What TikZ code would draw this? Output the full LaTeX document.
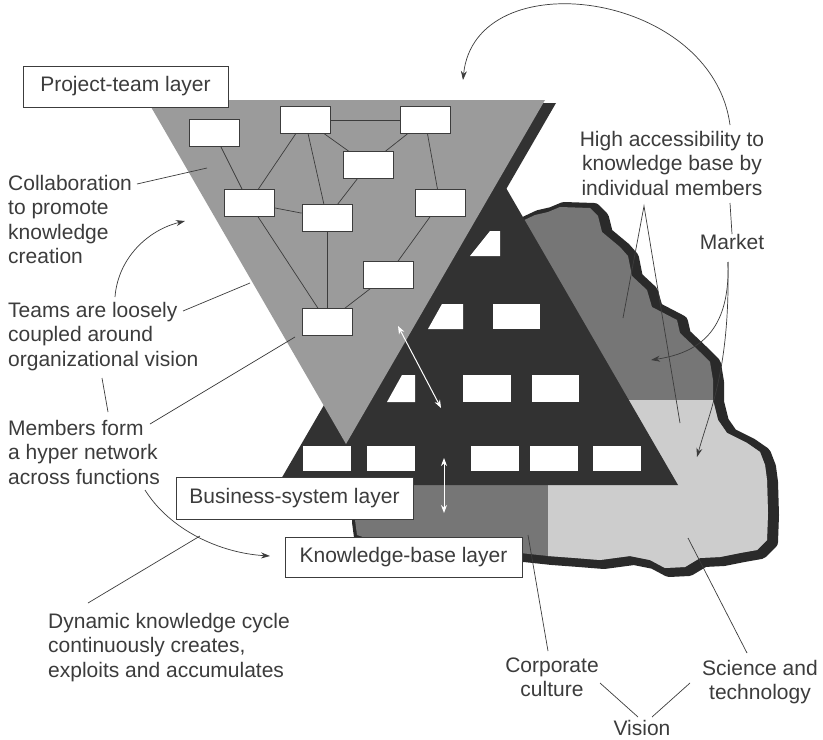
\documentclass[tikz,border=0pt]{standalone}
\usepackage{fontspec}
\usepackage{xcolor}
\setmainfont{Liberation Sans}
\usetikzlibrary{arrows.meta}

\definecolor{inkgrey}{HTML}{3C3C3C}
\definecolor{teamgrey}{HTML}{9B9B9B}
\definecolor{pyrdark}{HTML}{323232}
\definecolor{rockmid}{HTML}{767676}
\definecolor{rocklight}{HTML}{CDCDCD}
\definecolor{rockedge}{HTML}{2A2A2A}

\newcommand{\labelfont}{\fontsize{21bp}{24.5bp}\selectfont}
\newcommand{\rockline}{(520,222) -- (535,215) -- (548,212) -- (560,207) -- (590,208) -- (598,216) -- (602,232) -- (620,247) -- (628,256) -- (632,276) -- (647,290) -- (652,307) -- (677,320) -- (680,333) -- (700,352) -- (710,362) -- (713,380) -- (713,400) -- (718,420) -- (727,433) -- (747,443) -- (760,452) -- (765,465) -- (767,480) -- (768,513) -- (767,540) -- (757,550) -- (740,553) -- (720,557) -- (700,558) -- (685,567) -- (665,568) -- (650,560) -- (630,556) -- (600,560) -- (575,558) -- (548,556) -- (520,553) -- (500,555) -- (400,550) -- (357,535) -- (355,520) -- (360,470) -- cycle}

\tikzset{
  member/.style={draw=inkgrey, fill=white, line width=0.6bp, minimum width=50bp, minimum height=27bp, inner sep=0},
  layerbox/.style={draw=inkgrey, fill=white, line width=0.8bp, inner sep=0, font=\labelfont, text=inkgrey},
  note/.style={inner sep=0, font=\labelfont, text=inkgrey},
  lead/.style={draw=inkgrey, line width=0.7bp},
  pointer/.style={lead, -{Stealth[length=9bp,width=6bp]}},
  flow/.style={draw=white, line width=1bp, {Stealth[length=8bp,width=6bp]}-{Stealth[length=8bp,width=6bp]}},
}

\begin{document}
\begin{tikzpicture}[x=1bp,y=-1bp]
  \fill[white] (0,0) rectangle (823,740);
  \useasboundingbox (0,0) rectangle (823,740);

  % Knowledge-base rock
  \filldraw[rockedge, line width=14bp, line join=round, shift={(4,2)}] \rockline;
  \fill[rockmid] \rockline;
  \fill[rocklight] (600,400) -- (713,400) -- (718,420) -- (727,433) -- (747,443) -- (760,452) -- (765,465) -- (767,480) -- (768,513) -- (767,540) -- (757,550) -- (740,553) -- (720,557) -- (700,558) -- (685,567) -- (665,568) -- (650,560) -- (630,556) -- (600,560) -- (575,558) -- (548,556) -- (548,470) -- cycle;

  % Business-system pyramid
  \fill[pyrdark] (277.6,485) -- (478,139.5) -- (678,485) -- cycle;
  \fill[white] (490,231) -- (500,231) -- (500,256) -- (470,256) -- cycle;
  \fill[white] (442,304) -- (463,304) -- (463,329) -- (428,329) -- cycle;
  \fill[white] (493,304) rectangle (540,329);
  \fill[white] (402,375) -- (415,375) -- (415,402) -- (387,402) -- cycle;
  \fill[white] (463,375) rectangle (511,402);
  \fill[white] (532,375) rectangle (579,402);
  \foreach \x in {303,367,471,530,593}
    \fill[white] (\x,446) rectangle ++(48,25);

  % Project-team triangle
  \fill[pyrdark] (158,103) -- (556,103) -- (357,447) -- cycle;
  \fill[teamgrey] (147,100) -- (545,100) -- (346,444) -- cycle;

  % Team members
  \node[member] (t1) at (214,133) {};
  \node[member] (t2) at (305,120) {};
  \node[member] (t3) at (425,120) {};
  \node[member] (t4) at (368,165) {};
  \node[member] (t5) at (249,203) {};
  \node[member] (t6) at (327,218) {};
  \node[member] (t7) at (440,203) {};
  \node[member] (t8) at (388,275) {};
  \node[member] (t9) at (327,322) {};
  \foreach \a/\b in {t2/t3,t2/t4,t3/t4,t1/t5,t2/t5,t2/t6,t4/t6,t5/t6,t3/t7,t7/t8,t5/t9,t6/t9,t8/t9}
    \draw[lead] (\a) -- (\b);

  % Interaction between layers
  \coordinate (upA) at (398,326);
  \coordinate (upB) at (441,408);
  \coordinate (dnA) at (444,458);
  \coordinate (dnB) at (444,513);
  \draw[flow] (upA) -- (upB);
  \draw[flow] (dnA) -- (dnB);

  % Layer labels
  \node[layerbox, minimum width=205bp, minimum height=41bp] (projlayer) at (125.5,86.5) {Project-team layer};
  \node[layerbox, minimum width=237bp, minimum height=42bp] (buslayer) at (294.5,498) {Business-system layer};
  \node[layerbox, minimum width=237bp, minimum height=40bp] (kblayer) at (403.5,557) {Knowledge-base layer};

  % Notes on the left
  \node[note, align=left, anchor=north west] (collab) at (8,175) {Collaboration\\to promote\\knowledge\\creation};
  \node[note, align=left, anchor=north west] (teams) at (8,302) {Teams are loosely\\coupled around\\organizational vision};
  \node[note, align=left, anchor=north west] (members) at (8,420) {Members form\\a hyper network\\across functions};
  \node[note, align=left, anchor=north west] (cycle) at (48,613) {Dynamic knowledge cycle\\continuously creates,\\exploits and accumulates};

  % Notes on the right
  \node[note, align=center, anchor=north] (access) at (672,131) {High accessibility to\\knowledge base by\\individual members};
  \node[note] (market) at (732,242) {Market};
  \node[note, align=center] (culture) at (552,677.5) {Corporate\\culture};
  \node[note, align=center] (science) at (760,682) {Science and\\technology};
  \node[note] (vision) at (642,728) {Vision};

  % Leader ends
  \coordinate (collabA) at (137,184);
  \coordinate (collabB) at (207,168);
  \coordinate (teamsA) at (183,311);
  \coordinate (teamsB) at (250,283);
  \coordinate (teamsC) at (115,297);
  \coordinate (teamsD) at (185,221);
  \coordinate (tickA) at (102,378);
  \coordinate (tickB) at (108,412);
  \coordinate (membA) at (150,424);
  \coordinate (membB) at (295,337);
  \coordinate (membC) at (145,490);
  \coordinate (membD) at (270,556);
  \coordinate (cycleA) at (88,603);
  \coordinate (cycleB) at (200,536);
  \coordinate (loopA) at (730,125);
  \coordinate (loopB) at (463,80);
  \coordinate (accA) at (644,206);
  \coordinate (accB) at (623,318);
  \coordinate (accC) at (680,423);
  \coordinate (accD) at (730,203);
  \coordinate (mktA) at (728,262);
  \coordinate (mktB) at (651,360);
  \coordinate (mktC) at (697,457);
  \coordinate (cultA) at (528,535);
  \coordinate (cultB) at (548,651);
  \coordinate (sciA) at (688,538);
  \coordinate (sciB) at (747,653);
  \coordinate (visA) at (600,683);
  \coordinate (visB) at (690,683);
  \coordinate (visC) at (638,717);
  \coordinate (visD) at (652,717);

  % Leaders
  \draw[lead] (collabA) -- (collabB);
  \draw[lead] (teamsA) -- (teamsB);
  \draw[pointer] (teamsC) .. controls (118,258) and (148,230) .. (teamsD);
  \draw[lead] (tickA) -- (tickB);
  \draw[lead] (membA) -- (membB);
  \draw[pointer] (membC) .. controls (170,530) and (220,553) .. (membD);
  \draw[lead] (cycleA) -- (cycleB);
  \draw[pointer] (loopA) .. controls (712,-10) and (475,-40) .. (loopB);
  \draw[lead] (accB) -- (accA) -- (accC);
  \draw[lead] (accD) -- (market.north);
  \draw[pointer] (mktA) .. controls (730,325) and (705,352) .. (mktB);
  \draw[pointer] (mktA) .. controls (730,370) and (710,410) .. (mktC);
  \draw[lead] (cultA) -- (cultB);
  \draw[lead] (sciA) -- (sciB);
  \draw[lead] (visA) -- (visC);
  \draw[lead] (visB) -- (visD);
\end{tikzpicture}
\end{document}
